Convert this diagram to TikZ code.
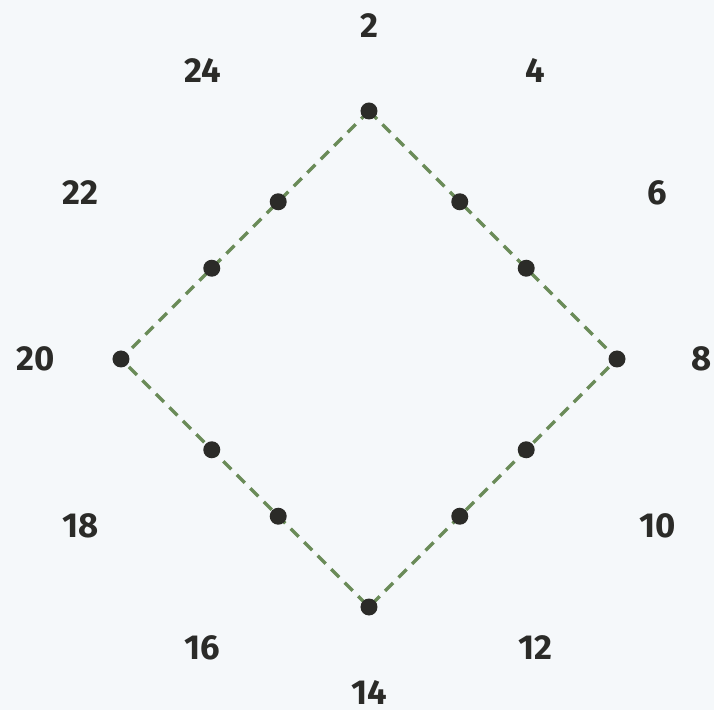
\documentclass[tikz,border=0pt]{standalone}
\usepackage{fontspec}
\setmainfont{Fira Sans}
\definecolor{bgpaper}{HTML}{F5F8FA}
\definecolor{edgegreen}{HTML}{6A8B58}
\definecolor{inkdark}{HTML}{2B2B28}
\tikzset{
  hourlabel/.style={font=\fontsize{26}{28}\selectfont\bfseries, text=inkdark, inner sep=0pt},
  dashedge/.style={draw=edgegreen, line width=2.6pt, dash pattern=on 8.5pt off 5.8pt},
}
\begin{document}
\begin{tikzpicture}[x=0.75pt,y=0.75pt]
\fill[bgpaper] (-369,-351) rectangle (345,359);
\useasboundingbox (-369,-351) rectangle (345,359);

% points on the square, one per clock position
\foreach \i in {0,...,11}{
  \pgfmathsetmacro{\ang}{90-30*\i}
  \pgfmathsetmacro{\rad}{248/(abs(cos(\ang))+abs(sin(\ang)))}
  \coordinate (p\i) at (\ang:\rad);
}
\draw[dashedge] (p0) -- (p3) -- (p6) -- (p9) -- cycle;

\foreach \i in {0,...,11}{
  \fill[inkdark] (p\i) circle (8.5);
  \pgfmathtruncatemacro{\num}{2*(\i+1)}
  \node[hourlabel] (l\i) at ({90-30*\i}:333) {\num};
}
\end{tikzpicture}
\end{document}
